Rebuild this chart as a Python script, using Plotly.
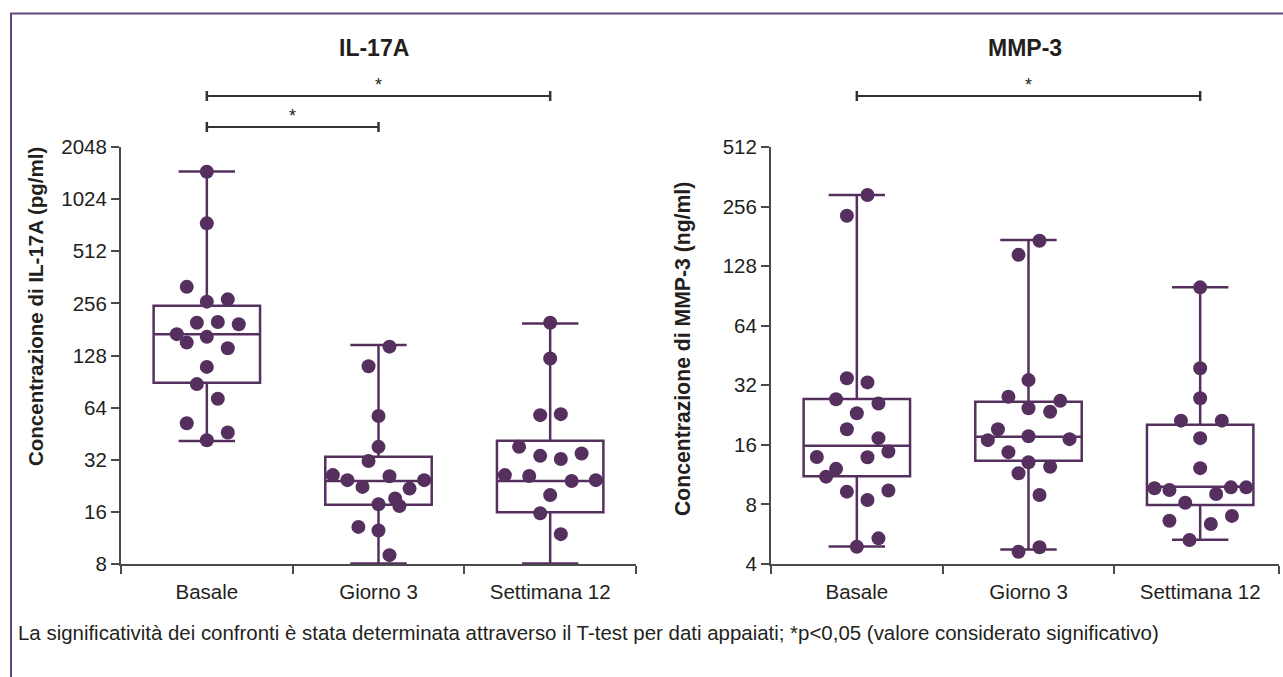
import math
import plotly.graph_objects as go

# ---------------- data ----------------
groups = ["Basale", "Giorno 3", "Settimana 12"]

# IL-17A (pg/ml)
il17_basale = [1475, 742, 319, 262, 270, 198, 200, 194, 170, 152, 164, 141, 110, 87.5, 72, 52, 46, 41.5]
il17_giorno3 = [144, 111, 57.2, 38, 31.5, 26.1, 24.4, 25.7, 24.4, 22.3, 21.8, 19.1, 17.7, 17.3, 13.1, 12.5, 9.0, 7.9]
il17_sett12 = [198, 123, 57.9, 58.7, 38, 33.7, 32.3, 34.8, 26.1, 25.8, 24.1, 24.4, 20.0, 15.7, 11.9, 7.9, 7.9]

# swarm offsets (fraction of category width)
il17_basale_sw = [0, 0, -0.117, 0, 0.122, -0.058, 0.064, 0.186, -0.175, -0.117, 0, 0.122, 0, -0.058, 0.064, -0.117, 0.122, 0]
il17_giorno3_sw = [0.064, -0.058, 0, 0, -0.058, -0.266, -0.181, 0.064, 0.266, -0.093, 0.181, 0.097, 0, 0.122, -0.117, 0, 0.064, -0.058]
il17_sett12_sw = [0, 0, -0.058, 0.062, -0.181, -0.058, 0.062, 0.183, -0.264, -0.122, 0.125, 0.266, 0, -0.058, 0.062, -0.117, 0.125]

il17_q1 = [89, 17.6, 15.9]
il17_median = [170, 24.1, 24.1]
il17_q3 = [248, 33.3, 41.2]
il17_low = [41.0, 8.05, 8.05]
il17_high = [1480, 147, 196]

# MMP-3 (ng/ml)
mmp3_basale = [293, 230, 34.7, 33.1, 27.2, 25.9, 23.1, 19.2, 17.3, 14.8, 13.9, 13.85, 12.1, 11.05, 9.28, 9.4, 8.42, 5.39, 4.89]
mmp3_giorno3 = [172, 146, 34, 28, 26.7, 24.5, 23.5, 19.2, 16.9, 17.7, 17.1, 14.7, 13.06, 12.4, 11.5, 8.93, 4.86, 4.61]
mmp3_sett12 = [100, 39, 27.5, 21.2, 21.2, 17.3, 12.2, 9.65, 9.46, 9.76, 9.76, 9.03, 8.16, 6.62, 7.0, 6.37, 5.29]

mmp3_basale_sw = [0.062, -0.058, -0.058, 0.062, -0.121, 0.126, 0, -0.058, 0.126, 0.184, -0.233, 0.062, -0.121, -0.179, -0.058, 0.184, 0.062, 0.126, 0]
mmp3_giorno3_sw = [0.064, -0.058, 0, -0.117, 0.185, 0, 0.126, -0.178, -0.237, 0, 0.239, -0.117, 0, 0.126, -0.058, 0.064, 0.064, -0.058]
mmp3_sett12_sw = [0, 0, 0, -0.112, 0.126, 0, 0, -0.266, -0.179, 0.179, 0.268, 0.093, -0.087, -0.179, 0.185, 0.062, -0.062]

mmp3_q1 = [11.1, 13.3, 7.94]
mmp3_median = [15.85, 17.6, 9.83]
mmp3_q3 = [27.3, 26.4, 20.2]
mmp3_low = [4.9, 4.73, 5.3]
mmp3_high = [293, 173.5, 100]

il17_ticks = [8, 16, 32, 64, 128, 256, 512, 1024, 2048]
mmp3_ticks = [4, 8, 16, 32, 64, 128, 256, 512]

panel_titles = ["IL-17A", "MMP-3"]
y_titles = ["Concentrazione di IL-17A (pg/ml)", "Concentrazione di MMP-3 (ng/ml)"]
footnote = ("La significatività dei confronti è stata determinata attraverso il T-test per dati appaiati; "
            "*p<0,05 (valore considerato significativo)")

# ---------------- style ----------------
W, H = 1283, 677
PURPLE = "#55305f"
AXIS = "#4a4a4a"
TXT = "#231f20"
FONT = "Liberation Sans, Arial, sans-serif"


def px(x):
    return x / W


def py(y):
    return 1 - y / H


fig = go.Figure()

panels = [
    dict(x="x", y="y", data=[il17_basale, il17_giorno3, il17_sett12],
         sw=[il17_basale_sw, il17_giorno3_sw, il17_sett12_sw],
         q1=il17_q1, med=il17_median, q3=il17_q3, lo=il17_low, hi=il17_high),
    dict(x="x2", y="y2", data=[mmp3_basale, mmp3_giorno3, mmp3_sett12],
         sw=[mmp3_basale_sw, mmp3_giorno3_sw, mmp3_sett12_sw],
         q1=mmp3_q1, med=mmp3_median, q3=mmp3_q3, lo=mmp3_low, hi=mmp3_high),
]

for p in panels:
    fig.add_trace(go.Box(
        x=[0, 1, 2], q1=p["q1"], median=p["med"], q3=p["q3"],
        lowerfence=p["lo"], upperfence=p["hi"],
        width=0.62, whiskerwidth=0.53, boxpoints=False,
        fillcolor="rgba(255,255,255,0)", line=dict(color=PURPLE, width=2.5),
        xaxis=p["x"], yaxis=p["y"], showlegend=False, hoverinfo="skip"))
    for i, (vals, sw) in enumerate(zip(p["data"], p["sw"])):
        fig.add_trace(go.Scatter(
            x=[i + s for s in sw], y=vals, mode="markers",
            marker=dict(size=14, color=PURPLE, line=dict(width=0)),
            cliponaxis=False, xaxis=p["x"], yaxis=p["y"], showlegend=False))

left_dom = [px(121), px(636)]
right_dom = [px(771), px(1279)]
right_end = -0.5 + (1279 - 771) / ((636 - 121) / 3)
ydom = [py(564), py(147)]

xcommon = dict(tickmode="array", tickvals=[0, 1, 2], ticktext=groups, ticks="",
               showline=True, linecolor=AXIS, linewidth=2, showgrid=False, zeroline=False,
               automargin=False,
               tickfont=dict(family=FONT, size=20.5, color=TXT), ticklabelstandoff=8)
ycommon = dict(type="log", tickmode="array", ticks="outside", ticklen=8, tickwidth=2,
               tickcolor=AXIS, showline=True, linecolor=AXIS, linewidth=2, showgrid=False,
               zeroline=False, automargin=False,
               tickfont=dict(family=FONT, size=20.5, color=TXT), domain=ydom)

fig.update_layout(
    width=W, height=H, autosize=False, margin=dict(l=0, r=0, t=0, b=0, pad=0),
    paper_bgcolor="white", plot_bgcolor="white", showlegend=False,
    xaxis=dict(domain=left_dom, range=[-0.5, 2.5], anchor="y",
               minor=dict(tickvals=[-0.5, 0.5, 1.5, 2.5], ticks="outside", ticklen=8,
                          tickwidth=2, tickcolor=AXIS), **xcommon),
    yaxis=dict(range=[math.log10(8), math.log10(2048)], tickvals=il17_ticks,
               ticktext=[str(t) for t in il17_ticks], anchor="x", **ycommon),
    xaxis2=dict(domain=right_dom, range=[-0.5, right_end], anchor="y2",
                minor=dict(tickvals=[-0.5, 0.5, 1.5, right_end], ticks="outside", ticklen=8,
                           tickwidth=2, tickcolor=AXIS), **xcommon),
    yaxis2=dict(range=[math.log10(4), math.log10(512)], tickvals=mmp3_ticks,
                ticktext=[str(t) for t in mmp3_ticks], anchor="x2", **ycommon),
)

shapes = []
annotations = []

# outer frame
shapes.append(dict(type="rect", xref="paper", yref="paper", x0=px(11), x1=1.05,
                   y0=-0.05, y1=py(13.5), line=dict(color="#62467a", width=2),
                   fillcolor="rgba(0,0,0,0)", layer="below"))

# significance brackets
BR = "#333333"
brackets = [("x", 0, 2, 96), ("x", 0, 1, 127), ("x2", 0, 2, 96)]
for xr, a, b, yy in brackets:
    shapes.append(dict(type="line", xref=xr, yref="paper", x0=a, x1=b, y0=py(yy), y1=py(yy),
                       line=dict(color=BR, width=2)))
    for e in (a, b):
        shapes.append(dict(type="line", xref=xr, yref="paper", x0=e, x1=e,
                           y0=py(yy - 5), y1=py(yy + 5), line=dict(color=BR, width=2.5)))
    annotations.append(dict(text="*", xref=xr, yref="paper", x=(a + b) / 2, y=py(yy - 11),
                            showarrow=False, font=dict(family=FONT, size=18, color=TXT),
                            xanchor="center", yanchor="middle"))

# panel titles
for t, xc in zip(panel_titles, [374, 1025]):
    annotations.append(dict(text="<b>%s</b>" % t, xref="paper", yref="paper", x=px(xc), y=py(48),
                            showarrow=False, font=dict(family=FONT, size=23, color=TXT),
                            xanchor="center", yanchor="middle"))

# y axis titles
for t, xc, yc, fs in zip(y_titles, [35, 683], [307, 349], [20.5, 21.2]):
    annotations.append(dict(text="<b>%s</b>" % t, xref="paper", yref="paper", x=px(xc), y=py(yc),
                            showarrow=False, textangle=-90, font=dict(family=FONT, size=fs, color=TXT),
                            xanchor="center", yanchor="middle"))

# footnote
annotations.append(dict(text=footnote, xref="paper", yref="paper", x=px(16), y=py(632),
                        showarrow=False, font=dict(family=FONT, size=20.45, color=TXT),
                        xanchor="left", yanchor="middle"))

fig.update_layout(shapes=shapes, annotations=annotations)
fig.write_html("out.html", config={"displayModeBar": False},
               post_script="document.body.style.margin='0';document.body.style.overflow='hidden';")
